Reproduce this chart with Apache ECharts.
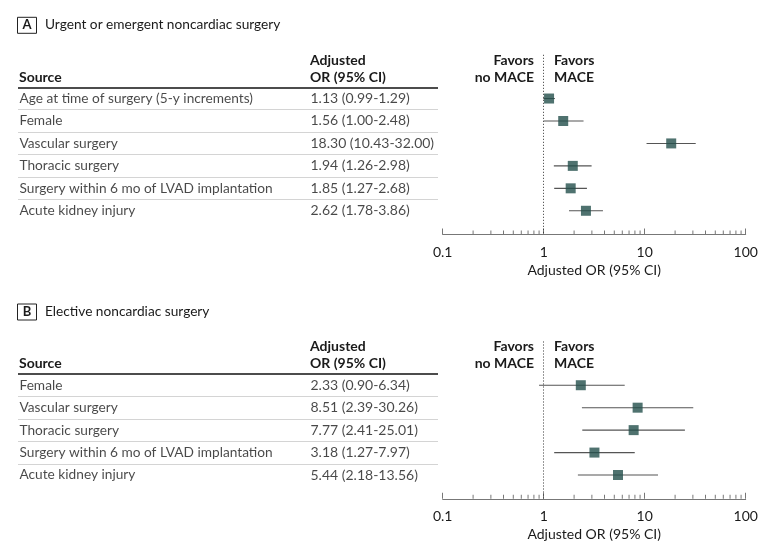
<!DOCTYPE html>
<html>
<head>
<meta charset="utf-8">
<script src="https://cdn.jsdelivr.net/npm/echarts@6/dist/echarts.min.js"></script>
<style>
html, body { margin: 0; padding: 0; background: #fff; }
#main { width: 780px; height: 552px; }
</style>
</head>
<body>
<div id="main"></div>
<script>
// panel A - urgent / emergent
var sourcesA = ['Age at time of surgery (5-y increments)', 'Female', 'Vascular surgery',
  'Thoracic surgery', 'Surgery within 6 mo of LVAD implantation', 'Acute kidney injury'];
var orA = [1.13, 1.56, 18.30, 1.94, 1.85, 2.62];
var loA = [0.99, 1.00, 10.43, 1.26, 1.27, 1.78];
var hiA = [1.29, 2.48, 32.00, 2.98, 2.68, 3.86];

// panel B - elective
var sourcesB = ['Female', 'Vascular surgery', 'Thoracic surgery',
  'Surgery within 6 mo of LVAD implantation', 'Acute kidney injury'];
var orB = [2.33, 8.51, 7.77, 3.18, 5.44];
var loB = [0.90, 2.39, 2.41, 1.27, 2.18];
var hiB = [6.34, 30.26, 25.01, 7.97, 13.56];

var xTickLabels = ['0.1', '1', '10', '100'];
var minorTicks = [0.2, 0.3, 0.4, 0.5, 0.6, 0.7, 0.8, 0.9,
  2, 3, 4, 5, 6, 7, 8, 9,
  20, 30, 40, 50, 60, 70, 80, 90];

var FONT = 'Lato';
var TXT = '#1a1a1a';
var ROW = 22.45;
var FS = 13.7;

var chart = echarts.init(document.getElementById('main'));

var grid = [], xAxis = [], yAxis = [], series = [], graphic = [];

function fmt(v) { return v.toFixed(2); }

function panel(k, letter, title, sources, or, lo, hi, y0) {
  var n = sources.length;
  var top = y0 - 32.5;
  var axisY = y0 + n * ROW + 12.5;
  var yMin = -0.5 - (y0 - top) / ROW;
  var yMax = n - 0.5 + (axisY - y0 - n * ROW) / ROW;
  var gt = 2 * k, gp = 2 * k + 1;

  grid.push({ left: 18, top: top, width: 420, height: axisY - top });
  grid.push({ left: 442.7, top: top, width: 303, height: axisY - top });

  xAxis.push({ gridIndex: gt, type: 'value', min: 0, max: 420, show: false });
  xAxis.push({
    gridIndex: gp, type: 'log', logBase: 10, min: 0.1, max: 100, interval: 1,
    axisLine: { onZero: false, lineStyle: { color: '#777', width: 1 } },
    axisTick: { show: true, inside: true, length: 6, lineStyle: { color: '#777' } },
    axisLabel: {
      margin: 11, fontFamily: FONT, fontSize: 14, color: TXT,
      formatter: function (v) {
        var i = Math.round(Math.log10(v)) + 1;
        return xTickLabels[i];
      }
    },
    splitLine: { show: false },
    name: 'Adjusted OR (95% CI)', nameLocation: 'middle', nameGap: 29,
    nameTextStyle: { fontFamily: FONT, fontSize: 14, color: TXT }
  });
  yAxis.push({ gridIndex: gt, type: 'value', min: yMin, max: yMax, inverse: true, show: false });
  yAxis.push({ gridIndex: gp, type: 'value', min: yMin, max: yMax, inverse: true, show: false });

  var seps = [{ yAxis: -0.5, lineStyle: { color: '#111', width: 1.6, type: 'solid' } }];
  for (var i = 0; i < n - 1; i++) {
    seps.push({ yAxis: i + 0.5, lineStyle: { color: '#d4d4d4', width: 1, type: 'solid' } });
  }

  // source column
  series.push({
    type: 'scatter', xAxisIndex: gt, yAxisIndex: gt, silent: true,
    symbolSize: 1, itemStyle: { color: 'transparent' },
    data: sources.map(function (s, i) { return { name: s, value: [0, i] }; }),
    label: { show: true, position: 'right', distance: 1, formatter: '{b}',
      fontFamily: FONT, fontSize: FS, color: TXT },
    markLine: { silent: true, symbol: 'none', label: { show: false }, data: seps }
  });
  // OR column
  series.push({
    type: 'scatter', xAxisIndex: gt, yAxisIndex: gt, silent: true,
    symbolSize: 1, itemStyle: { color: 'transparent' },
    data: or.map(function (v, i) {
      return { name: fmt(v) + ' (' + fmt(lo[i]) + '-' + fmt(hi[i]) + ')', value: [292, i] };
    }),
    label: { show: true, position: 'right', distance: 0, formatter: '{b}',
      fontFamily: FONT, fontSize: 14, color: TXT }
  });
  // CI whiskers
  series.push({
    type: 'custom', xAxisIndex: gp, yAxisIndex: gp, silent: true,
    data: or.map(function (v, i) { return [lo[i], hi[i], i]; }),
    encode: { x: [0, 1], y: 2 },
    renderItem: function (params, api) {
      var a = api.coord([api.value(0), api.value(2)]);
      var b = api.coord([api.value(1), api.value(2)]);
      return { type: 'line', shape: { x1: a[0], y1: a[1], x2: b[0], y2: b[1] },
        style: { stroke: '#555', lineWidth: 1.1 } };
    },
    z: 2
  });
  // point estimates + reference line
  series.push({
    type: 'scatter', xAxisIndex: gp, yAxisIndex: gp, silent: true,
    symbol: 'rect', symbolSize: 10,
    itemStyle: { color: '#234f4b' },
    data: or.map(function (v, i) { return [v, i]; }),
    markLine: {
      silent: true, symbol: 'none', label: { show: false },
      lineStyle: { color: '#333', type: [1, 2], width: 1 },
      data: [{ xAxis: 1 }]
    },
    z: 3
  });
  // minor log ticks
  series.push({
    type: 'custom', xAxisIndex: gp, yAxisIndex: gp, silent: true,
    data: minorTicks.map(function (v) { return [v, 0]; }),
    encode: { x: 0, y: 1 },
    renderItem: function (params, api) {
      var p = api.coord([api.value(0), 0]);
      var yb = params.coordSys.y + params.coordSys.height;
      return { type: 'line', shape: { x1: p[0], y1: yb, x2: p[0], y2: yb - 4 },
        style: { stroke: '#777', lineWidth: 1 } };
    }
  });

  var bold = { fontFamily: FONT, fontSize: 14, fontWeight: 'bold', fill: TXT };
  var plain = { fontFamily: FONT, fontSize: 14, fill: TXT };
  function txt(x, y, s, st, align) {
    graphic.push({ type: 'text', x: x, y: y, silent: true,
      style: Object.assign({ text: s, align: align || 'left', verticalAlign: 'middle' }, st) });
  }
  graphic.push({ type: 'rect', silent: true,
    shape: { x: 17.5, y: y0 - 70, width: 19, height: 16 },
    style: { fill: 'none', stroke: '#222', lineWidth: 1 } });
  txt(27, y0 - 62, letter, Object.assign({}, bold, { fontSize: 13 }), 'center');
  txt(45, y0 - 62.3, title, Object.assign({}, plain, { fontSize: 13.7 }));
  txt(19, y0 - 10.3, 'Source', bold);
  txt(310, y0 - 27.3, 'Adjusted', bold);
  txt(310, y0 - 10.3, 'OR (95% CI)', bold);
  txt(534, y0 - 27.3, 'Favors', bold, 'right');
  txt(534, y0 - 10.3, 'no MACE', bold, 'right');
  txt(554, y0 - 27.3, 'Favors', bold);
  txt(554, y0 - 10.3, 'MACE', bold);
}

panel(0, 'A', 'Urgent or emergent noncardiac surgery', sourcesA, orA, loA, hiA, 87.3);
panel(1, 'B', 'Elective noncardiac surgery', sourcesB, orB, loB, hiB, 374);

chart.setOption({
  animation: false,
  backgroundColor: '#fff',
  grid: grid,
  xAxis: xAxis,
  yAxis: yAxis,
  series: series,
  graphic: graphic
});
</script>
</body>
</html>
